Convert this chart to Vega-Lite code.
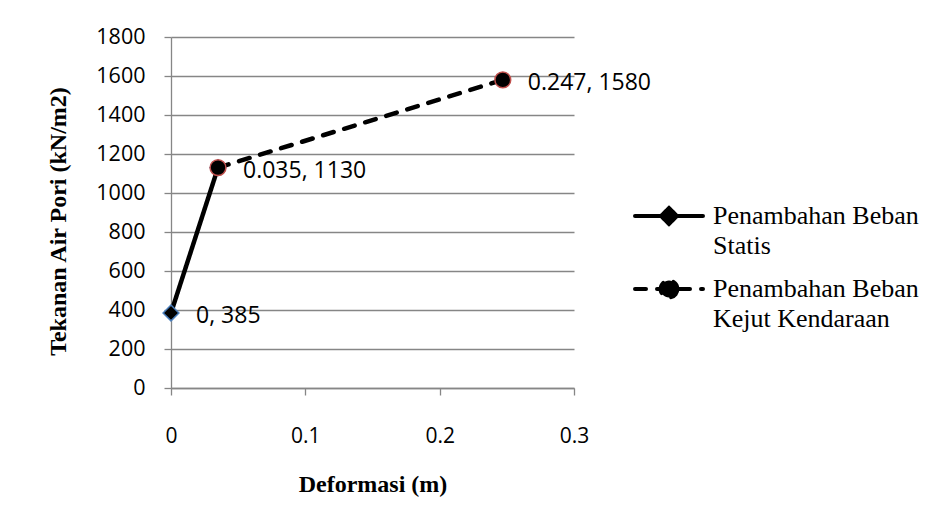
{
  "$schema": "https://vega.github.io/schema/vega-lite/v6.json",
  "width": 403,
  "height": 351,
  "autosize": {"type": "none"},
  "padding": {"left": 171, "top": 37, "right": 361, "bottom": 136},
  "background": "white",
  "config": {"view": {"stroke": null}, "font": "Open Sans"},
  "data": {
    "values": [
      {"series": "Penambahan Beban Statis", "marker": "Statis", "x": 0, "y": 385, "label": "0, 385"},
      {"series": "Penambahan Beban Statis", "marker": "Statis", "x": 0.035, "y": 1130, "label": null},
      {"series": "Penambahan Beban Kejut Kendaraan", "marker": "Kejut", "x": 0.035, "y": 1130, "label": "0.035, 1130"},
      {"series": "Penambahan Beban Kejut Kendaraan", "marker": "Kejut", "x": 0.247, "y": 1580, "label": "0.247, 1580"}
    ]
  },
  "encoding": {
    "x": {
      "field": "x",
      "type": "quantitative",
      "scale": {"domain": [0, 0.3], "nice": false, "zero": false},
      "axis": {
        "values": [0, 0.1, 0.2, 0.3],
        "format": "~g",
        "grid": false,
        "labelFlush": false,
        "domainColor": "#868686",
        "tickColor": "#868686",
        "domainWidth": 1.3,
        "tickWidth": 1.3,
        "tickSize": 7,
        "labelFont": "Open Sans",
        "labelFontSize": 21,
        "labelColor": "black",
        "labelPadding": 30,
        "title": "Deformasi (m)",
        "titleFont": "Liberation Serif",
        "titleFontSize": 24,
        "titleFontWeight": "bold",
        "titleColor": "black",
        "titlePadding": 26
      }
    },
    "y": {
      "field": "y",
      "type": "quantitative",
      "scale": {"domain": [0, 1800], "nice": false},
      "axis": {
        "values": [0, 200, 400, 600, 800, 1000, 1200, 1400, 1600, 1800],
        "format": "d",
        "grid": true,
        "gridColor": "#868686",
        "gridWidth": 1.3,
        "domainColor": "#868686",
        "tickColor": "#868686",
        "domainWidth": 1.3,
        "tickWidth": 1.3,
        "tickSize": 7,
        "labelFont": "Open Sans",
        "labelFontSize": 21.5,
        "labelColor": "black",
        "labelPadding": 19,
        "title": "Tekanan Air Pori (kN/m2)",
        "titleFont": "Liberation Serif",
        "titleFontSize": 24,
        "titleFontWeight": "bold",
        "titleColor": "black",
        "titlePadding": 25,
        "titleY": 184
      }
    }
  },
  "layer": [
    {
      "mark": {"type": "line", "strokeWidth": 4.5, "color": "black", "strokeCap": "round"},
      "encoding": {
        "strokeDash": {
          "field": "series",
          "type": "nominal",
          "scale": {
            "domain": ["Penambahan Beban Statis", "Penambahan Beban Kejut Kendaraan"],
            "range": [[1, 0], [11, 11]]
          },
          "legend": {
            "orient": "none",
            "legendX": 476,
            "legendY": 157,
            "title": null,
            "padding": 0,
            "symbolSize": 1600,
            "symbolStrokeWidth": 4,
            "symbolStrokeColor": "black",
            "symbolFillColor": "black",
            "labelFont": "Liberation Serif",
            "labelFontSize": 26,
            "labelColor": "black",
            "labelOffset": 22,
            "labelBaseline": "middle",
            "labelLimit": 400,
            "rowPadding": 8,
            "labelExpr": "datum.label == 'Penambahan Beban Statis' ? ['Penambahan Beban', 'Statis'] : ['Penambahan Beban', 'Kejut Kendaraan']",
            "encode": {
              "symbols": {
                "update": {
                  "shape": {"signal": "datum.value == 'Penambahan Beban Statis' ? 'M-1.7,0H1.7M0,-0.4L0.4,0L0,0.4L-0.4,0Z' : 'M-1.7,0H1.7M0.42,0A0.42,0.42,0,1,1,-0.42,0A0.42,0.42,0,1,1,0.42,0Z'"},
                  "fill": {"value": "black"},
                  "fillOpacity": {"value": 1},
                  "stroke": {"value": "black"},
                  "strokeOpacity": {"value": 1},
                  "strokeWidth": {"value": 4},
                  "strokeCap": {"value": "round"}
                }
              },
              "labels": {
                "update": {
                  "lineHeight": {"value": 30}
                }
              }
            }
          }
        }
      }
    },
    {
      "mark": {"type": "point", "filled": false, "fill": "black", "fillOpacity": 1, "strokeWidth": 1.5, "opacity": 1, "size": 250},
      "encoding": {
        "shape": {
          "field": "marker",
          "type": "nominal",
          "scale": {"domain": ["Statis", "Kejut"], "range": ["diamond", "circle"]},
          "legend": null
        },
        "stroke": {
          "field": "marker",
          "type": "nominal",
          "scale": {"domain": ["Statis", "Kejut"], "range": ["#4a7ebb", "#c0504d"]},
          "legend": null
        }
      }
    },
    {
      "transform": [{"filter": "datum.label != null"}],
      "mark": {"type": "text", "align": "left", "baseline": "middle", "dx": 25, "dy": 3, "fontSize": 23, "font": "Open Sans", "color": "black"},
      "encoding": {"text": {"field": "label", "type": "nominal"}}
    }
  ]
}
